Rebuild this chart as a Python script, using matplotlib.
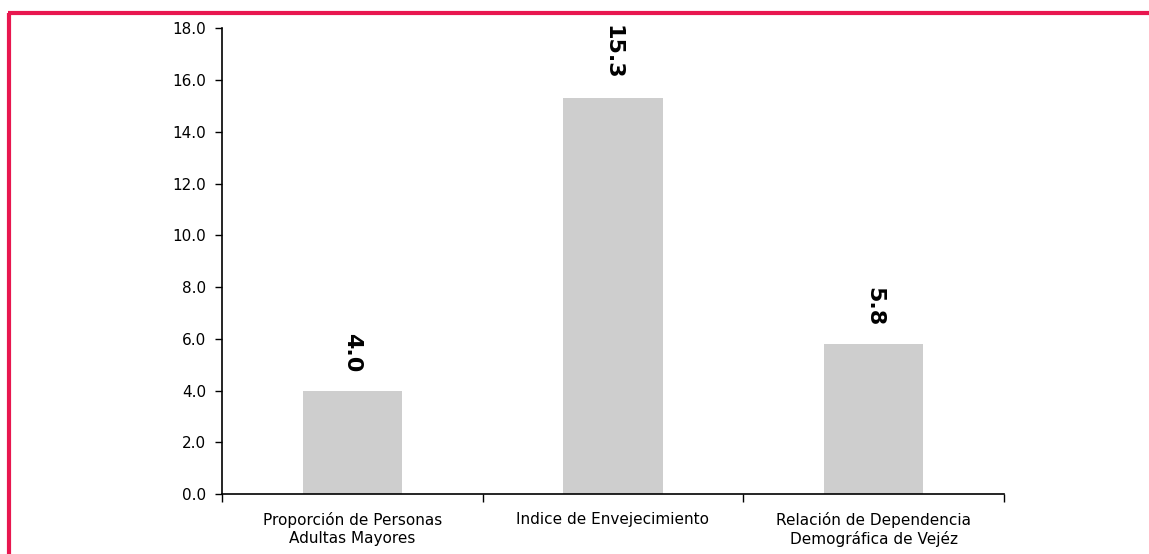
import matplotlib
matplotlib.use('Agg')
import matplotlib.pyplot as plt
from matplotlib.lines import Line2D
from matplotlib.ticker import FormatStrFormatter
import numpy as np

# data
categories = ['Proporción de Personas\nAdultas Mayores',
              'Indice de Envejecimiento',
              'Relación de Dependencia\nDemográfica de Vejéz']
values = [4.0, 15.3, 5.8]
labels = ['4.0', '15.3', '5.8']
yticks = [0, 2, 4, 6, 8, 10, 12, 14, 16, 18]

fig = plt.figure(figsize=(11.49, 5.54), dpi=100)
ax = fig.add_axes([0.193, 0.108, 0.681, 0.841])

x = np.arange(len(values)) + 0.5
ax.bar(x, values, width=0.38, color='#cecece', edgecolor='none')

for xi, v, lab in zip(x, values, labels):
    ax.annotate(lab, (xi, v), xytext=(0, 13), textcoords='offset points',
                rotation=270, ha='center', va='bottom',
                fontsize=16, fontweight='bold', color='black')

ax.set_xlim(0, 3)
ax.set_ylim(0, 18)
ax.set_yticks(yticks)
ax.yaxis.set_major_formatter(FormatStrFormatter('%.1f'))
ax.set_xticks(x)
ax.set_xticklabels(categories, fontsize=11)
ax.set_xticks([0, 1, 2, 3], minor=True)
ax.tick_params(axis='x', which='major', length=0, pad=13)
ax.tick_params(axis='x', which='minor', length=6, direction='out', width=1)
ax.tick_params(axis='y', length=5, width=1, labelsize=11, pad=6)

for s in ['top', 'right']:
    ax.spines[s].set_visible(False)
ax.spines['left'].set_linewidth(1.2)
ax.spines['bottom'].set_linewidth(1.2)

# pink frame lines
pink = '#e8174f'
fig.add_artist(Line2D([7.5 / 1149, 1.0], [1 - 12.5 / 554, 1 - 12.5 / 554],
                      color=pink, linewidth=3, solid_capstyle='butt',
                      transform=fig.transFigure))
fig.add_artist(Line2D([8.5 / 1149, 8.5 / 1149], [0.0, 1 - 12.5 / 554],
                      color=pink, linewidth=3, solid_capstyle='butt',
                      transform=fig.transFigure))

plt.savefig('out.png', dpi=100)
